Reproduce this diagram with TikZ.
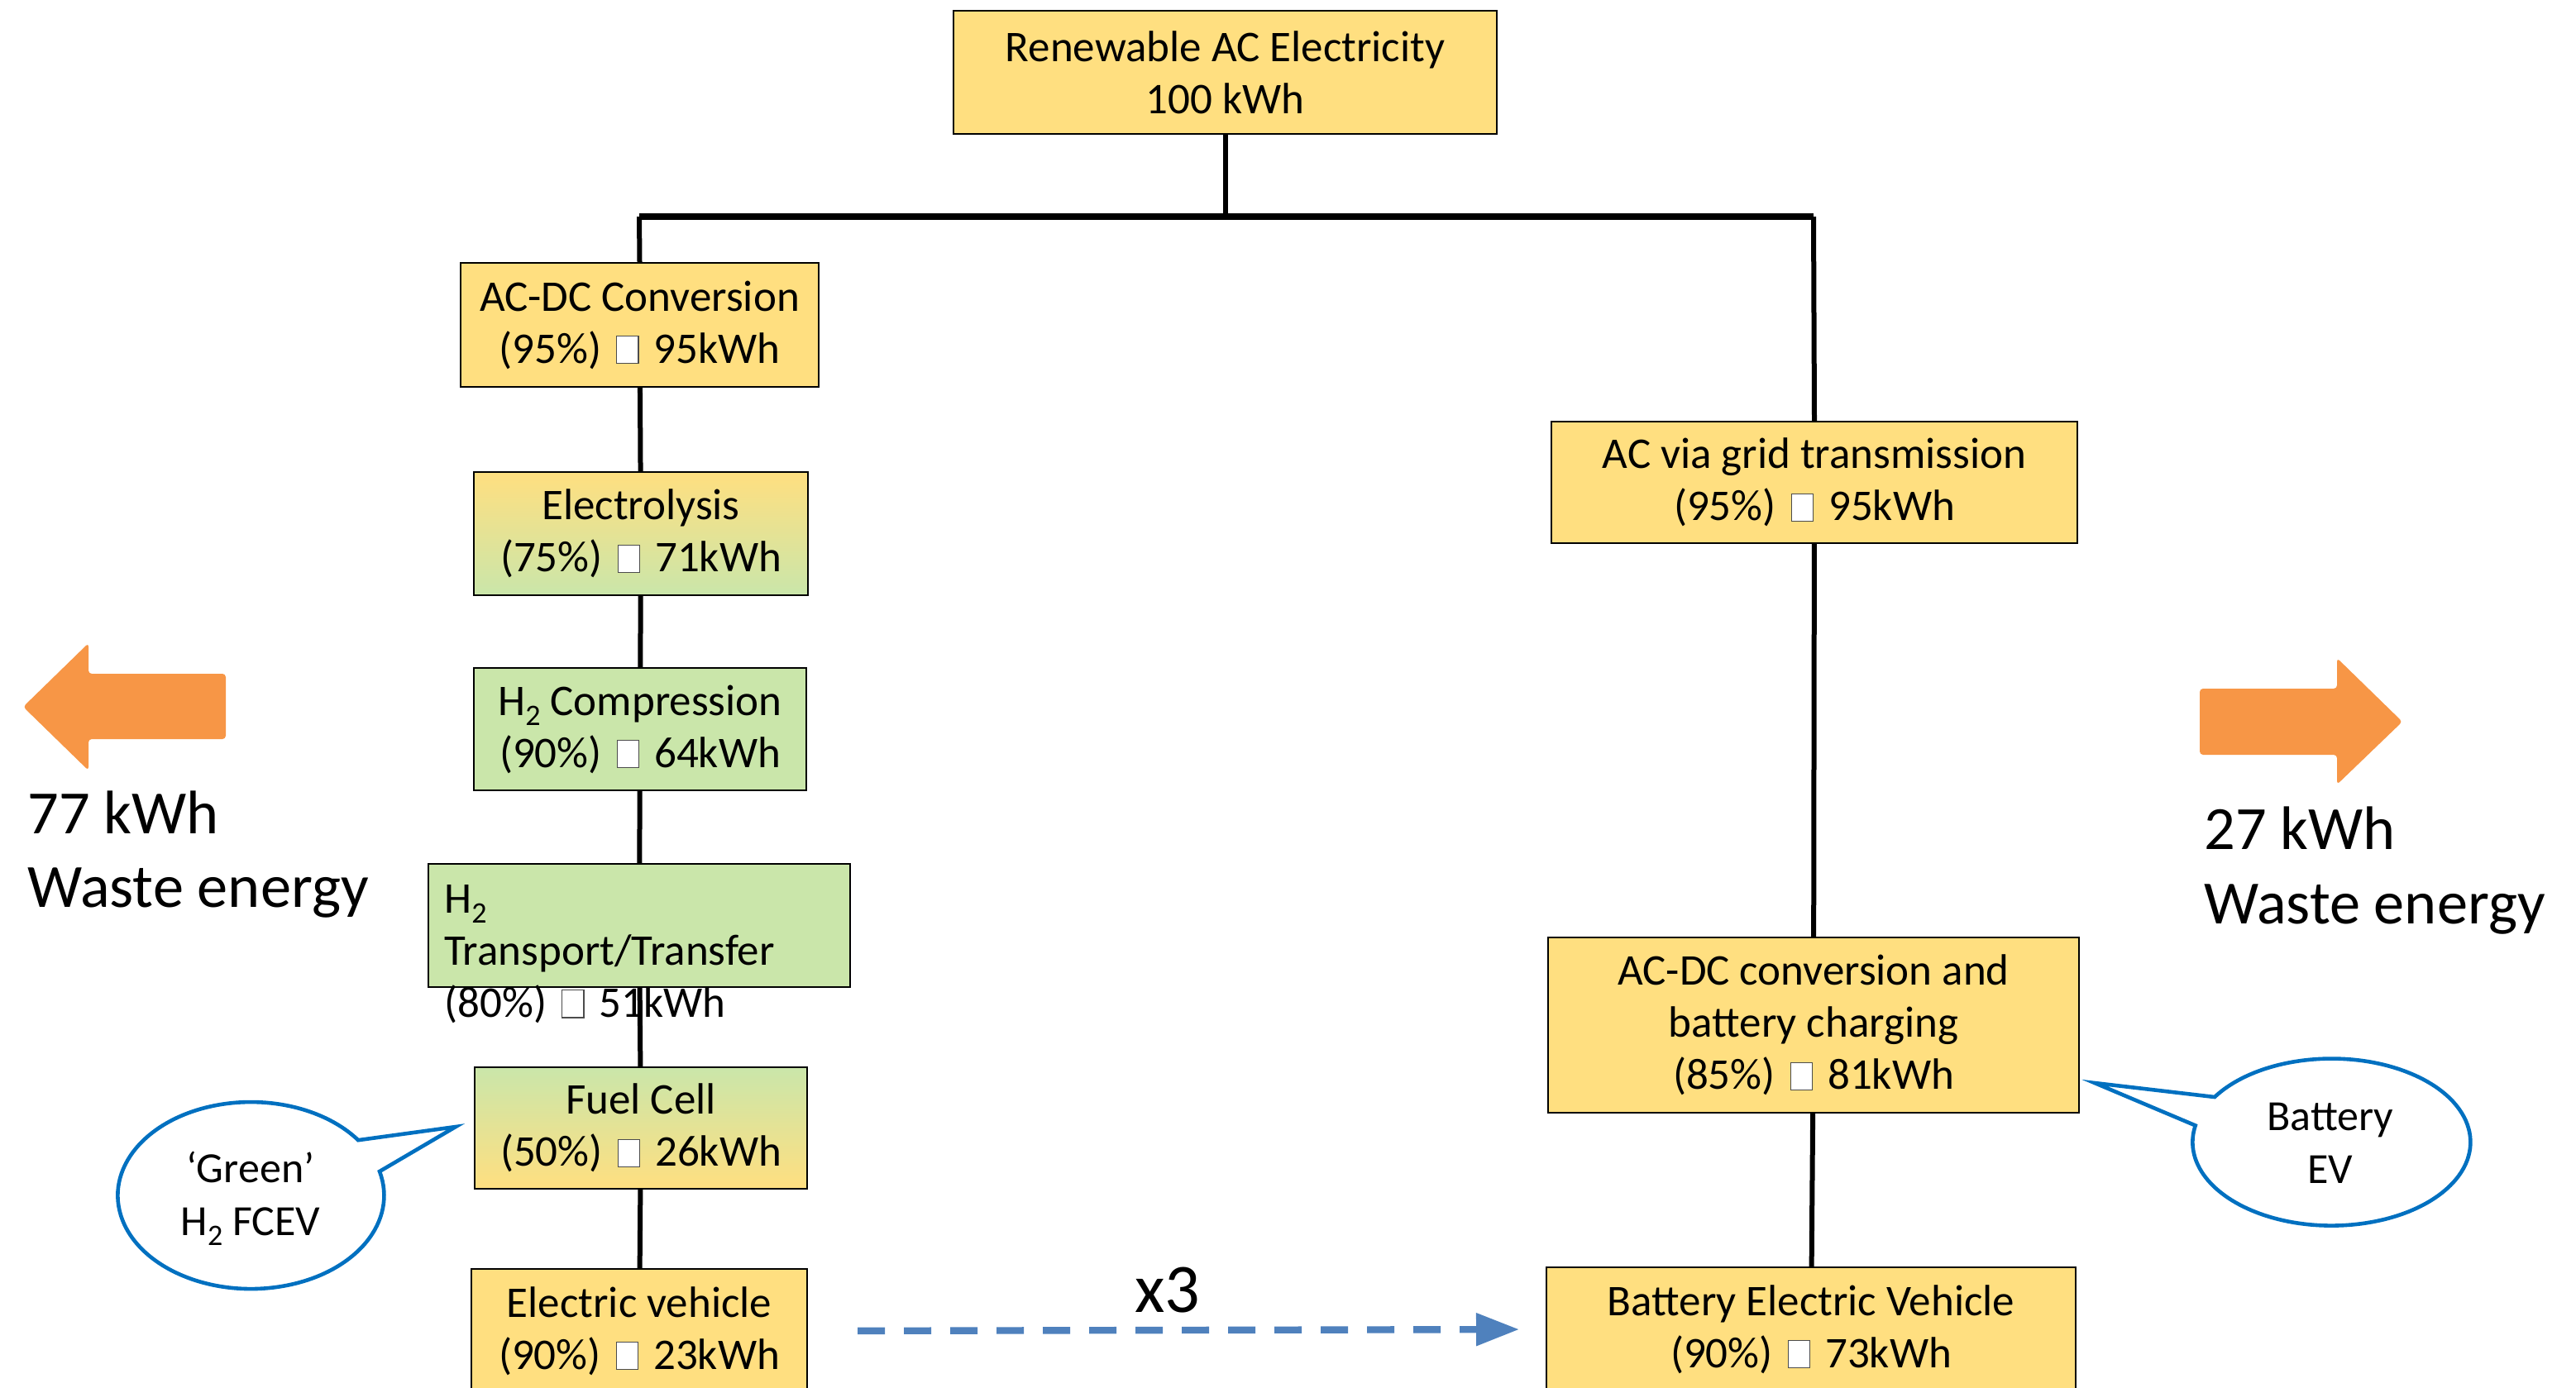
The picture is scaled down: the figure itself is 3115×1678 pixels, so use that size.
\documentclass[tikz,border=0pt]{standalone}
\usepackage{fontspec}
\setmainfont{Carlito}
\usetikzlibrary{arrows.meta}
\definecolor{boxyellow}{HTML}{FFDF80}
\definecolor{boxgreen}{HTML}{CAE6AA}
\definecolor{wasteorange}{HTML}{F79646}
\definecolor{calloutblue}{HTML}{0070C0}
\definecolor{dashblue}{HTML}{4F81BD}
\newcommand{\tofu}{\hspace{9pt}{\fboxsep=0pt\fboxrule=0.6pt\fcolorbox{black!70}{boxyellow!0}{\rule{0pt}{16pt}\hspace{12.5pt}}}\hspace{9pt}}
\newcommand{\lowsub}[1]{\raisebox{-6pt}{\fontsize{18}{18}\selectfont #1}}
\begin{document}
\begin{tikzpicture}[x=0.5pt,y=-0.5pt,
  sz/.style 2 args={minimum width=#1*0.5pt, minimum height=#2*0.5pt},
  stagebox/.style={draw=black, line width=1pt, inner sep=0pt, align=center,
                   font=\fontsize{26.5}{31.5}\selectfont},
  ybox/.style={stagebox, fill=boxyellow},
  gbox/.style={stagebox, fill=boxgreen},
  ygbox/.style={stagebox, top color=boxyellow, bottom color=boxgreen},
  gybox/.style={stagebox, top color=boxgreen, bottom color=boxyellow},
  link/.style={line width=3pt, black},
  wastetext/.style={anchor=base west, inner sep=0pt, font=\fontsize{37.2}{44.5}\selectfont},
  bubble/.style={draw=calloutblue, line width=2.3pt, fill=white, line join=miter},
  bubbletext/.style={align=center, inner sep=0pt, font=\fontsize{26}{32}\selectfont},
  wastearrow/.style={fill=wasteorange, rounded corners=2pt},
  dasharrow/.style={draw=dashblue, line width=4.2pt, dash pattern=on 16.5pt off 11.5pt,
                    -{Triangle[length=26pt,width=19pt]}}
]
\useasboundingbox (0,0) rectangle (3115,1678);

% ---- boxes, left branch
\node[ybox, sz={657}{149}] (top) at (1481.5,87.5) {Renewable AC Electricity\\100 kWh};
\node[ybox, sz={433}{150}] (acdc) at (773.5,393) {AC-DC Conversion\\(95\%)\tofu95kWh};
\node[ygbox, sz={404}{149}] (elec) at (775,645.5) {Electrolysis\\(75\%)\tofu71kWh};
\node[gbox, sz={402}{148}] (comp) at (774,882) {H\lowsub{2} Compression\\(90\%)\tofu64kWh};
\node[gbox, sz={510}{149}] (trans) at (773,1119.5) {};
\node[anchor=north west, inner sep=0pt, align=left, font=\fontsize{26.5}{31.5}\selectfont]
  (transtext) at (537,1070) {H\lowsub{2}\\Transport/Transfer\\(80\%)\tofu51kWh};
\node[gybox, sz={402}{147}] (fuel) at (775,1364.5) {Fuel Cell\\(50\%)\tofu26kWh};
\node[ybox, sz={406}{150}] (ev) at (773,1610) {Electric vehicle\\(90\%)\tofu23kWh};

% ---- boxes, right branch
\node[ybox, sz={636}{147}] (grid) at (2194,583.5) {AC via grid transmission\\(95\%)\tofu95kWh};
\node[ybox, sz={642}{212}] (batt) at (2193,1240) {AC-DC conversion and\\battery charging\\(85\%)\tofu81kWh};
\node[ybox, sz={640}{150}] (bev) at (2190,1608) {Battery Electric Vehicle\\(90\%)\tofu73kWh};

% ---- connectors
\coordinate (jl) at (773,262);
\coordinate (jr) at (2193,262);
\coordinate (jm) at (top.south |- jl);
\draw[link] (top.south) -- (jm);
\draw[line width=4pt] (jl) -- (jr);
\draw[link] (jl) -- (acdc.north);
\draw[link] (jr) -- (grid.north);
\draw[link] (acdc) -- (elec);
\draw[link] (elec) -- (comp);
\draw[link] (comp) -- (trans);
\draw[link] (trans) -- (fuel);
\draw[link] (fuel) -- (ev);
\draw[link] (grid) -- (batt);
\draw[link] (batt) -- (bev);

% ---- x3 dashed arrow
\draw[dasharrow, shorten <=30pt, shorten >=16pt] (ev.east) -- (bev.west);
\node[anchor=base, inner sep=0pt, font=\fontsize{42}{48}\selectfont] (times) at (1412,1587) {x3};

% ---- waste energy arrows
\fill[wastearrow] (28,855) -- (107,778) -- (107,815) -- (273,815) -- (273,894)
  -- (107,894) -- (107,932) -- cycle;
\node[wastetext] (lw1) at (33,1008) {77 kWh};
\node[wastetext] (lw2) at (33,1097) {Waste energy};
\fill[wastearrow] (2905,873) -- (2826,796) -- (2826,833) -- (2660,833) -- (2660,913)
  -- (2826,913) -- (2826,949) -- cycle;
\node[wastetext] (rw1) at (2665,1027) {27 kWh};
\node[wastetext] (rw2) at (2665,1117) {Waste energy};

% ---- callouts
\draw[bubble] (551,1363) -- (459,1417)
  arc[start angle=-14.9, end angle=323.7, x radius=161, y radius=113] -- cycle;
\node[bubbletext] (green) at (303,1450) {‘Green’\\H\lowsub{2} FCEV};
\draw[bubble] (2533,1310) -- (2678,1327)
  arc[start angle=-147.3, end angle=191.5, x radius=168, y radius=101] -- cycle;
\node[bubbletext] (bevtext) at (2818,1383) {Battery\\EV};
\end{tikzpicture}
\end{document}
